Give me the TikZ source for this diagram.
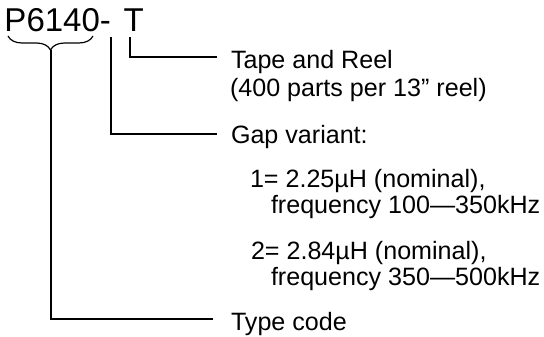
\documentclass[tikz,border=0pt]{standalone}
\usepackage{fontspec}
\setmainfont{Liberation Sans}
\usetikzlibrary{decorations.pathreplacing}
\begin{document}
\begin{tikzpicture}[x=1pt,y=-1pt,
  conn/.style={line width=1.2pt,black},
  lbl/.style={anchor=base west,inner sep=0pt,outer sep=0pt,font=\fontsize{25.1}{27}\selectfont},
  ttl/.style={anchor=base west,inner sep=0pt,outer sep=0pt,font=\fontsize{33}{35}\selectfont}]
\useasboundingbox (0,0) rectangle (544,337);
% title
\node[ttl] (code) at (4.5,32) {P6140-};
\node[ttl] (tcode) at (123.5,32) {T};
% labels
\node[lbl] (tape) at (231,69) {Tape and Reel};
\node[lbl] (tape2) at (230,97) {(400 parts per 13” reel)};
\node[lbl] (gap) at (231,143) {Gap variant:};
\node[lbl] (g1a) at (250,187) {1= 2.25µH (nominal),};
\node[lbl] (g1b) at (271,213) {frequency 100—350kHz};
\node[lbl] (g2a) at (251,259) {2= 2.84µH (nominal),};
\node[lbl] (g2b) at (271,285) {frequency 350—500kHz};
\node[lbl] (type) at (231,330) {Type code};
% brace
\draw[conn,decorate,decoration={brace,mirror,amplitude=14pt}] (8,36) -- (93,36);
\coordinate (btip) at (51,50);
% connector ends
\coordinate (eType) at (213,319);
\coordinate (gA) at (111,37);
\coordinate (eGap) at (217,134);
\coordinate (tA) at (130,37);
\coordinate (eTape) at (217,57);
\draw[conn] (btip) |- (eType);
\draw[conn] (gA) |- (eGap);
\draw[conn] (tA) |- (eTape);
\end{tikzpicture}
\end{document}
